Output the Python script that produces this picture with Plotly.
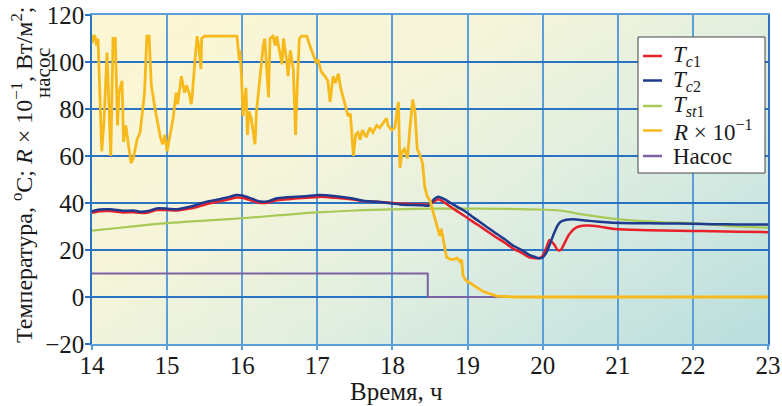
import base64, struct, zlib
import plotly.graph_objects as go

# ---------------- data ----------------
t_R = [14.00,14.02,14.04,14.06,14.08,14.10,14.13,14.16,14.20,14.25,14.28,14.31,14.34,14.36,14.40,14.42,14.45,14.48,
       14.52,14.55,14.60,14.64,14.67,14.70,14.73,14.76,14.79,14.84,14.91,14.94,14.97,15.00,15.04,15.08,15.12,15.14,
       15.19,15.23,15.26,15.30,15.32,15.33,15.38,15.40,15.42,15.45,15.46,15.50,15.93,15.96,15.97,15.99,16.01,16.05,
       16.07,16.09,16.12,16.17,16.19,16.24,16.28,16.30,16.32,16.35,16.37,16.41,16.44,16.46,16.50,16.53,16.55,16.59,
       16.61,16.64,16.68,16.71,16.73,16.76,16.79,16.86,16.90,16.94,16.98,17.01,17.05,17.10,17.14,17.17,17.21,17.24,
       17.28,17.31,17.37,17.41,17.44,17.48,17.51,17.54,17.57,17.60,17.65,17.70,17.74,17.79,17.83,17.88,17.92,17.94,
       17.99,18.03,18.08,18.10,18.13,18.16,18.20,18.23,18.27,18.30,18.33,18.37,18.40,18.43,18.46,18.50,18.54,18.59,
       18.63,18.65,18.68,18.72,18.77,18.81,18.86,18.90,18.92,18.94,18.98,19.08,19.21,19.39,19.62,23.00]
R_vals = [108,111,111,107,110,92,62,75,104,60,110,110,73,87,92,66,73,66,
          57,59,67,70,80,87,111,111,90,80,68,65,69,62,69,76,87,82,
          94,87,90,86,82,84,104,111,107,97,110,111,111,101,105,94,77,89,
          69,79,76,65,79,94,107,110,101,85,110,111,107,111,104,99,110,101,
          94,105,97,69,87,110,111,111,107,103,100,101,96,94,92,83,94,91,
          95,89,82,77,78,60,69,70,67,71,68,72,70,73,72,74,76,73,
          71,72,83,55,62,63,59,71,84,79,63,60,57,47,43,41,36,30,
          26,29,24,17,16,16,16.5,15,16,9,7,5,2.3,0.4,0,0]

t_c = [14.0,14.1,14.24,14.42,14.55,14.64,14.75,14.86,15.0,15.13,15.3,15.42,15.53,15.65,15.75,15.85,15.92,16.0,
       16.1,16.24,16.35,16.46,16.6,16.73,16.85,17.02,17.15,17.3,17.45,17.61,17.8,17.97,18.1,18.28,18.4,18.48,
       18.55,18.61,18.7,18.8,18.94,19.05,19.16,19.27,19.38,19.5,19.6,19.72,19.82,19.9,19.95,20.0,20.05,20.09,
       20.15,20.2,20.24,20.3,20.35,20.45,20.57,20.75,20.93,21.2,21.6,22.0,22.26,22.6,23.0]
Tc2_vals = [36.5,37.2,37.3,36.7,36.8,36.3,36.6,37.7,37.6,37.3,38.4,39.5,40.6,41.3,42.0,42.8,43.4,43.2,
            42.2,40.6,40.8,42.0,42.4,42.7,42.9,43.4,43.2,42.7,42.0,41.0,40.5,39.9,39.4,39.1,39.0,38.9,
            41.5,42.7,41.5,39.5,37.0,34.5,32.0,29.5,27.0,24.5,22.0,20.0,17.9,17.0,16.5,16.8,19.0,22.0,
            27.0,30.5,32.0,32.8,33.0,33.0,32.6,32.0,31.6,31.4,31.3,31.2,31.0,30.9,30.8]
Tc1_vals = [35.8,36.5,36.6,36.0,36.1,35.8,36.0,37.0,37.0,36.8,37.6,38.5,39.6,40.4,41.0,41.8,42.3,42.2,
            41.3,40.0,40.2,41.2,41.6,42.0,42.2,42.6,42.5,42.0,41.6,40.8,40.5,40.1,39.8,39.5,39.4,39.3,
            40.5,41.6,40.0,37.8,34.9,32.5,30.2,27.8,25.4,23.0,20.7,18.8,16.9,16.5,16.5,17.5,21.0,24.3,
            22.5,20.0,20.0,23.5,26.5,29.6,30.4,30.0,29.0,28.6,28.3,28.1,28.0,27.8,27.6]

t_st = [14.0,14.5,15.0,15.5,16.0,16.5,17.0,17.5,18.0,18.5,19.0,19.5,19.83,20.23,20.5,21.03,21.6,22.0,22.5,23.0]
Tst1_vals = [28.2,29.9,31.4,32.5,33.5,34.8,36.0,36.8,37.3,37.6,37.6,37.5,37.3,36.8,35.3,33.0,31.8,31.4,30.2,29.5]

t_pump = [14.0,18.47,18.47,23.0]
pump_vals = [10,10,0,0]

x_ticks = [14,15,16,17,18,19,20,21,22,23]
y_ticks = [-20,0,20,40,60,80,100,120]

series_names = ["<i>T</i><sub><i>c</i>1</sub>", "<i>T</i><sub><i>c</i>2</sub>", "<i>T</i><sub><i>st</i>1</sub>",
                "<i>R</i> × 10<sup>−1</sup>", "Насос"]
series_colors = ["#e82029", "#1d3a8e", "#a9c957", "#f8b91c", "#7b63a3"]

# ---------------- background gradient image ----------------
def make_png(w, h, func):
    raw = b""
    for j in range(h):
        row = bytearray([0])
        for i in range(w):
            row += bytes(func(i / (w - 1), j / (h - 1)))
        raw += bytes(row)
    def chunk(tag, data):
        c = struct.pack(">I", len(data)) + tag + data
        return c + struct.pack(">I", zlib.crc32(tag + data) & 0xffffffff)
    png = b"\x89PNG\r\n\x1a\n"
    png += chunk(b"IHDR", struct.pack(">IIBBBBB", w, h, 8, 2, 0, 0, 0))
    png += chunk(b"IDAT", zlib.compress(raw, 9))
    png += chunk(b"IEND", b"")
    return "data:image/png;base64," + base64.b64encode(png).decode()

stops = [(0.0, (252, 247, 212)), (0.35, (246, 245, 218)), (0.62, (224, 238, 225)), (1.0, (186, 223, 222))]
def grad(fx, fy):
    s = max(0.0, min(1.0, 0.58 * fx + 0.42 * fy))
    for k in range(len(stops) - 1):
        a, ca = stops[k]
        b, cb = stops[k + 1]
        if s <= b:
            u = (s - a) / (b - a)
            return [int(round(ca[m] + (cb[m] - ca[m]) * u)) for m in range(3)]
    return list(stops[-1][1])

bg_uri = make_png(64, 32, grad)

FONT = "Liberation Serif, Times New Roman, DejaVu Serif, serif"
GRID_V = "#5c9fd8"
GRID_H = "#2a72c2"
TXT = "#1a1a1a"

# plot area in pixels (for placing the hand-made legend box and titles)
L, R_, T, B = 92, 768, 15, 344
def px(xp):
    return (xp - L) / (R_ - L)
def py(yp):
    return (B - yp) / (B - T)

fig = go.Figure()
fig.add_trace(go.Scatter(x=t_pump, y=pump_vals, mode="lines", name=series_names[4],
                         line=dict(color=series_colors[4], width=2)))
fig.add_trace(go.Scatter(x=t_st, y=Tst1_vals, mode="lines", name=series_names[2],
                         line=dict(color=series_colors[2], width=2.2, shape="spline")))
fig.add_trace(go.Scatter(x=t_c, y=Tc1_vals, mode="lines", name=series_names[0],
                         line=dict(color=series_colors[0], width=2.5, shape="spline", smoothing=0.6)))
fig.add_trace(go.Scatter(x=t_c, y=Tc2_vals, mode="lines", name=series_names[1],
                         line=dict(color=series_colors[1], width=2.5, shape="spline", smoothing=0.6)))
fig.add_trace(go.Scatter(x=t_R, y=R_vals, mode="lines", name=series_names[3],
                         line=dict(color=series_colors[3], width=2.8)))

# legend (box + swatches + text)
shapes = [dict(type="rect", xref="paper", yref="paper", x0=px(638), x1=px(765), y0=py(173), y1=py(37),
               fillcolor="white", line=dict(color="#444444", width=1), layer="above")]
annotations = []
row_y = [56, 80.5, 106, 130.5, 156]
for i, (nm, col) in enumerate(zip(series_names, series_colors)):
    shapes.append(dict(type="line", xref="paper", yref="paper", x0=px(643), x1=px(662),
                       y0=py(row_y[i]), y1=py(row_y[i]), line=dict(color=col, width=2.5), layer="above"))
    annotations.append(dict(text=nm, xref="paper", yref="paper", x=px(671), y=py(row_y[i]),
                            xanchor="left", yanchor="middle", showarrow=False,
                            font=dict(family=FONT, size=23, color=TXT)))

annotations += [
    dict(text="Время, ч", xref="paper", yref="paper", x=px(396), y=py(391),
         xanchor="center", yanchor="middle", showarrow=False,
         font=dict(family=FONT, size=25, color=TXT)),
    dict(text="Температура, <sup>o</sup>C; <i>R</i> × 10<sup>−1</sup>, Вт/м<sup>2</sup>;",
         xref="paper", yref="paper", x=px(22), y=py(175), xanchor="center", yanchor="middle",
         showarrow=False, textangle=-90,
         font=dict(family=FONT, size=24, color=TXT)),
    dict(text="насос", xref="paper", yref="paper", x=px(43), y=py(73),
         xanchor="center", yanchor="middle", showarrow=False, textangle=-90,
         font=dict(family=FONT, size=21, color=TXT)),
]

fig.update_layout(
    width=782, height=406,
    margin=dict(l=L, r=782 - R_, t=T, b=406 - B, autoexpand=False),
    paper_bgcolor="white",
    plot_bgcolor="rgba(0,0,0,0)",
    font=dict(family=FONT, size=22, color=TXT),
    showlegend=False,
    images=[dict(source=bg_uri, xref="x", yref="y", x=14, y=120, sizex=9, sizey=140,
                 sizing="stretch", layer="below")],
    xaxis=dict(range=[14, 23], tickvals=x_ticks, ticktext=[str(v) for v in x_ticks],
               automargin=False,
               showgrid=True, gridcolor=GRID_V, gridwidth=2,
               showline=True, linecolor=GRID_V, linewidth=2, mirror=True,
               ticks="outside", ticklen=4, tickcolor=GRID_V, tickwidth=1.5,
               ticklabelstandoff=-6,
               tickfont=dict(family=FONT, size=25, color=TXT), zeroline=False),
    yaxis=dict(range=[-20, 120], tickvals=y_ticks, automargin=False,
               showgrid=True, gridcolor=GRID_H, gridwidth=1.5,
               showline=True, linecolor=GRID_H, linewidth=1.5, mirror=True,
               ticks="outside", ticklen=5, tickcolor=GRID_H, tickwidth=1.5,
               ticklabelstandoff=-4,
               tickfont=dict(family=FONT, size=25, color=TXT), zeroline=False),
    shapes=shapes,
    annotations=annotations,
)

fig.write_html("out.html")
